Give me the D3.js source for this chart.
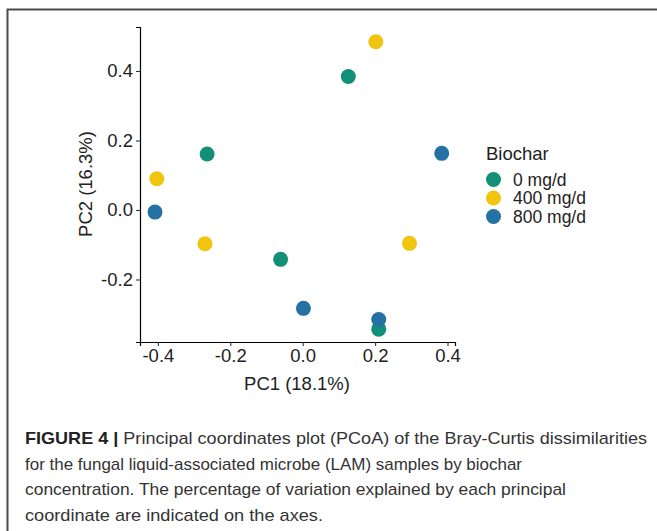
<!DOCTYPE html>
<html>
<head>
<meta charset="utf-8">
<script src="https://cdn.jsdelivr.net/npm/d3@7"></script>
<style>
  body { margin: 0; background: #fff; }
  svg { display: block; }
</style>
</head>
<body>
<script>
// PCoA scores
var groups = ["0 mg/d", "400 mg/d", "800 mg/d"];
var groupColors = ["#148f77", "#f1c40f", "#2471a3"];

var sampleGroup = ["0 mg/d", "0 mg/d", "0 mg/d", "0 mg/d",
                   "400 mg/d", "400 mg/d", "400 mg/d", "400 mg/d",
                   "800 mg/d", "800 mg/d", "800 mg/d", "800 mg/d"];
var pc1 = [0.126, -0.264, -0.061, 0.210,
           0.202, -0.403, -0.270, 0.295,
           0.384, -0.408, 0.002, 0.210];
var pc2 = [0.384, 0.161, -0.142, -0.343,
           0.484, 0.090, -0.097, -0.096,
           0.163, -0.006, -0.283, -0.315];

var xTicks = [-0.4, -0.2, 0.0, 0.2, 0.4];
var yTicks = [-0.2, 0.0, 0.2, 0.4];

var captionLines = [
  "Principal coordinates plot (PCoA) of the Bray-Curtis dissimilarities",
  "for the fungal liquid-associated microbe (LAM) samples by biochar",
  "concentration. The percentage of variation explained by each principal",
  "coordinate are indicated on the axes."
];

var W = 657, H = 531;
var svg = d3.select("body").append("svg")
    .attr("width", W)
    .attr("height", H);

// figure frame (runs off the right and bottom edge)
svg.append("rect")
    .attr("x", 7.5).attr("y", 9.5)
    .attr("width", 720).attr("height", 620)
    .attr("fill", "none")
    .attr("stroke", "#4a4a4a")
    .attr("stroke-width", 2);

var x = d3.scaleLinear().domain([-0.4494, 0.4207]).range([140, 455]);
var y = d3.scaleLinear().domain([-0.3799, 0.5266]).range([342, 27]);
var color = d3.scaleOrdinal().domain(groups).range(groupColors);

var font = "'Liberation Sans', Arial, sans-serif";

var xAxis = svg.append("g")
    .attr("transform", "translate(0,342)")
    .call(d3.axisBottom(x).tickValues(xTicks).tickFormat(d3.format(".1f")).tickSizeOuter(0).tickSize(4).tickPadding(3));
var yAxis = svg.append("g")
    .attr("transform", "translate(140,0)")
    .call(d3.axisLeft(y).tickValues(yTicks).tickFormat(d3.format(".1f")).tickSizeOuter(0).tickSize(4).tickPadding(3));

[xAxis, yAxis].forEach(function (g) {
  g.select(".domain").attr("stroke", "#000").attr("stroke-width", 1.2);
  g.selectAll(".tick line").attr("stroke", "#333").attr("stroke-width", 1.1);
  g.selectAll(".tick text")
      .attr("fill", "#222")
      .style("font-family", font)
      .style("font-size", "18.5px");
});
// minus sign as hyphen, like the original
svg.selectAll(".tick text").text(function (d) { return d3.format(".1f")(d).replace("−", "-"); });

svg.append("text")
    .attr("x", 297).attr("y", 390)
    .attr("text-anchor", "middle")
    .style("font-family", font).style("font-size", "18.5px").attr("fill", "#222")
    .text("PC1 (18.1%)");

svg.append("text")
    .attr("transform", "translate(92,184) rotate(-90)")
    .attr("text-anchor", "middle")
    .style("font-family", font).style("font-size", "18.5px").attr("fill", "#222")
    .text("PC2 (16.3%)");

// points
svg.selectAll("circle.pt")
    .data(pc1)
    .enter().append("circle")
    .attr("class", "pt")
    .attr("cx", function (d, i) { return x(d); })
    .attr("cy", function (d, i) { return y(pc2[i]); })
    .attr("r", 7.5)
    .attr("fill", function (d, i) { return color(sampleGroup[i]); });

// legend
var legend = svg.append("g").attr("transform", "translate(486,0)");
legend.append("text")
    .attr("x", 0).attr("y", 160)
    .style("font-family", font).style("font-size", "18.5px").attr("fill", "#222")
    .text("Biochar");
var item = legend.selectAll("g.item")
    .data(groups)
    .enter().append("g")
    .attr("class", "item")
    .attr("transform", function (d, i) { return "translate(0," + (179.5 + i * 18.5) + ")"; });
item.append("circle")
    .attr("cx", 7.5).attr("cy", 0).attr("r", 7.5)
    .attr("fill", function (d) { return color(d); });
item.append("text")
    .attr("x", 27).attr("y", 6)
    .style("font-family", font).style("font-size", "17.5px").attr("fill", "#222")
    .text(function (d) { return d; });

// caption
var capWidths = [622, 497, 541, 298];
var cap = svg.append("g").attr("transform", "translate(25,0)");
captionLines.forEach(function (line, i) {
  var t = cap.append("text")
      .attr("x", 0).attr("y", 444 + i * 25.5)
      .attr("textLength", capWidths[i])
      .attr("lengthAdjust", "spacingAndGlyphs")
      .style("font-family", "'Liberation Sans Narrow', 'Liberation Sans', Arial, sans-serif")
      .style("font-size", "17px")
      .attr("fill", "#333");
  if (i === 0) {
    t.append("tspan").attr("font-weight", "bold").attr("fill", "#222").text("FIGURE 4 | ");
  }
  t.append("tspan").text(line);
});
</script>
</body>
</html>
